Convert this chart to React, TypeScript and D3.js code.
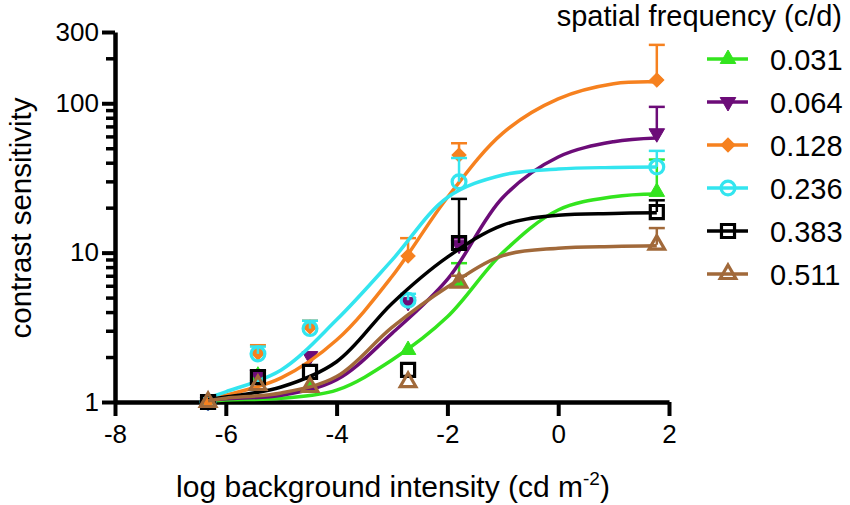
import * as d3 from "d3";
import { useEffect, useRef } from "react";

// x positions of the measurements (log background intensity)
const intensities = [-6.32, -5.42, -4.48, -2.71, -1.79, 1.78];

// legend / series labels (spatial frequency, c/d)
const frequencies = ["0.031", "0.064", "0.128", "0.236", "0.383", "0.511"];
const colors = ["#33e41e", "#6c0c78", "#f6811f", "#33e5ef", "#000000", "#a1693a"];
const markers = ["triangleUp", "triangleDown", "diamond", "circle", "square", "triangleOpen"];

// mean contrast sensitivity per series
const sens031 = [1.0, 1.5, 1.25, 2.23, 6.4, 25.5];
const sens064 = [1.0, 1.52, 2.03, 4.68, 11.3, 63];
const sens128 = [1.0, 2.13, 3.18, 9.5, 45, 143];
const sens236 = [1.0, 2.1, 3.1, 4.8, 29.8, 37.5];
const sens383 = [1.0, 1.47, 1.59, 1.64, 11.6, 18.7];
const sens511 = [1.0, 1.3, 1.26, 1.36, 6.3, 11.3];

// upper end of the error bars (null = no bar drawn)
const err031 = [null, null, null, null, 8.5, 42];
const err064 = [null, null, null, null, 12.5, 94.6];
const err128 = [null, 2.4, 3.5, 12.5, 54, 246];
const err236 = [null, 2.35, 3.5, 5.3, 43, 48];
const err383 = [null, null, null, null, 22.9, 22.4];
const err511 = [null, null, null, null, 7.0, 14.6];

// fitted curves at these x positions
const fitX = [-6.32, -6, -5, -4, -3, -2, -1, 0, 1, 1.78];
const fit031 = [1.01, 1.03, 1.06, 1.2, 1.91, 3.72, 10.0, 19.3, 23.7, 24.7];
const fit064 = [1.02, 1.05, 1.11, 1.41, 2.88, 6.61, 23.4, 43.7, 55.3, 58.6];
const fit128 = [1.05, 1.11, 1.45, 2.6, 6.92, 23.4, 63.1, 107, 135, 139];
const fit236 = [1.07, 1.17, 1.64, 3.55, 8.91, 23.4, 33.1, 36.3, 37.2, 37.5];
const fit383 = [1.04, 1.08, 1.26, 1.86, 4.57, 9.33, 15.3, 17.8, 18.3, 18.5];
const fit511 = [1.02, 1.06, 1.15, 1.48, 3.16, 5.89, 9.55, 10.7, 11.0, 11.1];

// axis ticks
const xTicks = [-8, -6, -4, -2, 0, 2];
const yMajor = [1, 10, 100, 300];
const yMinor = [2, 3, 4, 5, 6, 7, 8, 9, 20, 30, 40, 50, 60, 70, 80, 90, 200];

const sensitivities = [sens031, sens064, sens128, sens236, sens383, sens511];
const errors = [err031, err064, err128, err236, err383, err511];
const fits = [fit031, fit064, fit128, fit236, fit383, fit511];

const FONT = "'Liberation Sans', Arial, Helvetica, sans-serif";

const App = () => {
	const svgRef = useRef<SVGSVGElement | null>(null);

	useEffect(() => {
		const svg = d3.select(svgRef.current);
		svg.selectAll("*").remove();

		const xScale = d3.scaleLinear().domain([-8, 2]).range([115, 669]);
		const yScale = d3.scaleLog().domain([1, 300]).range([402, 32]);

		svg.append("rect").attr("width", 850).attr("height", 505).attr("fill", "white");

		//minor ticks on the log axis
		const yMinorAxis = d3
			.axisLeft(yScale)
			.tickValues(yMinor)
			.tickSize(9)
			.tickSizeOuter(0)
			.tickFormat(() => "");
		const minorG = svg.append("g").attr("transform", "translate(115,0)").call(yMinorAxis);
		minorG.select(".domain").remove();
		minorG.selectAll("line").attr("stroke-width", 3.5);

		const yAxis = d3
			.axisLeft(yScale)
			.tickValues(yMajor)
			.tickSize(13)
			.tickSizeOuter(0)
			.tickPadding(3)
			.tickFormat((d) => `${d}`);
		const yG = svg
			.append("g")
			.attr("transform", "translate(115,0)")
			.call(yAxis)
			.attr("font-size", 26)
			.attr("font-family", FONT);
		yG.select(".domain").attr("stroke-width", 4.5);
		yG.selectAll("line").attr("stroke-width", 4);

		const xAxis = d3
			.axisBottom(xScale)
			.tickValues(xTicks)
			.tickSize(14)
			.tickSizeOuter(0)
			.tickPadding(9)
			.tickFormat((d) => `${d}`);
		const xG = svg
			.append("g")
			.attr("transform", "translate(0,402)")
			.call(xAxis)
			.attr("font-size", 26)
			.attr("font-family", FONT);
		xG.select(".domain").attr("stroke-width", 4.5);
		xG.selectAll("line").attr("stroke-width", 4);

		//axis titles
		svg
			.append("text")
			.attr("transform", "translate(31,218) rotate(-90)")
			.attr("text-anchor", "middle")
			.attr("font-family", FONT)
			.attr("font-size", 29.5)
			.text("contrast sensitivity");

		const xTitle = svg
			.append("text")
			.attr("x", 393)
			.attr("y", 497)
			.attr("text-anchor", "middle")
			.attr("font-family", FONT)
			.attr("font-size", 30);
		xTitle.append("tspan").text("log background intensity (cd m");
		xTitle.append("tspan").attr("font-size", 19).attr("dy", -12).text("-2");
		xTitle.append("tspan").attr("dy", 12).text(")");

		const symbolPath = (kind: string) => {
			if (kind === "circle") return d3.symbol().type(d3.symbolCircle).size(150)();
			if (kind === "square") return d3.symbol().type(d3.symbolSquare).size(170)();
			if (kind === "diamond") return d3.symbol().type(d3.symbolSquare).size(100)();
			return d3.symbol().type(d3.symbolTriangle).size(105)();
		};
		const rotation = (kind: string) =>
			kind === "triangleDown" ? 180 : kind === "diamond" ? 45 : 0;
		const isOpen = (kind: string) =>
			kind === "circle" || kind === "square" || kind === "triangleOpen";

		const drawMarker = (
			g: d3.Selection<SVGGElement, unknown, null, undefined>,
			kind: string,
			color: string,
			cx: number,
			cy: number
		) => {
			g.append("path")
				.attr("d", symbolPath(kind))
				.attr("transform", `translate(${cx},${cy}) rotate(${rotation(kind)})`)
				.attr("fill", isOpen(kind) ? "none" : color)
				.attr("stroke", color)
				.attr("stroke-width", isOpen(kind) ? 3.2 : 1);
		};

		const line = d3
			.line<number>()
			.x((_, i) => xScale(fitX[i]))
			.y((d) => yScale(d))
			.curve(d3.curveCatmullRom.alpha(0.5));

		frequencies.forEach((freq, s) => {
			const color = colors[s];
			const g = svg.append("g") as d3.Selection<SVGGElement, unknown, null, undefined>;

			//error bars (upper only)
			errors[s].forEach((top, i) => {
				if (top === null) return;
				const cx = xScale(intensities[i]);
				g.append("line")
					.attr("x1", cx)
					.attr("x2", cx)
					.attr("y1", yScale(sensitivities[s][i]))
					.attr("y2", yScale(top))
					.attr("stroke", color)
					.attr("stroke-width", 2.5);
				g.append("line")
					.attr("x1", cx - 8)
					.attr("x2", cx + 8)
					.attr("y1", yScale(top))
					.attr("y2", yScale(top))
					.attr("stroke", color)
					.attr("stroke-width", 2.5);
			});

			//fitted curve
			g.append("path")
				.attr("d", line(fits[s]))
				.attr("fill", "none")
				.attr("stroke", color)
				.attr("stroke-width", 3.5);

			//points
			sensitivities[s].forEach((v, i) => {
				drawMarker(g, markers[s], color, xScale(intensities[i]), yScale(v));
			});

			//legend row
			const rowY = 60 + s * 43;
			g.append("line")
				.attr("x1", 707)
				.attr("x2", 748)
				.attr("y1", rowY - 1)
				.attr("y2", rowY - 1)
				.attr("stroke", color)
				.attr("stroke-width", 3.5);
			drawMarker(g, markers[s], color, 728, rowY - 1);
			g.append("text")
				.attr("x", 770)
				.attr("y", rowY + 10)
				.attr("font-family", FONT)
				.attr("font-size", 29)
				.text(freq);
		});

		svg
			.append("text")
			.attr("x", 842)
			.attr("y", 26)
			.attr("text-anchor", "end")
			.attr("font-family", FONT)
			.attr("font-size", 29)
			.text("spatial frequency (c/d)");
	}, []);

	return (
		<svg
			ref={svgRef}
			width={850}
			height={505}
			style={{ position: "absolute", left: 0, top: 0 }}
		/>
	);
};

export default App;
